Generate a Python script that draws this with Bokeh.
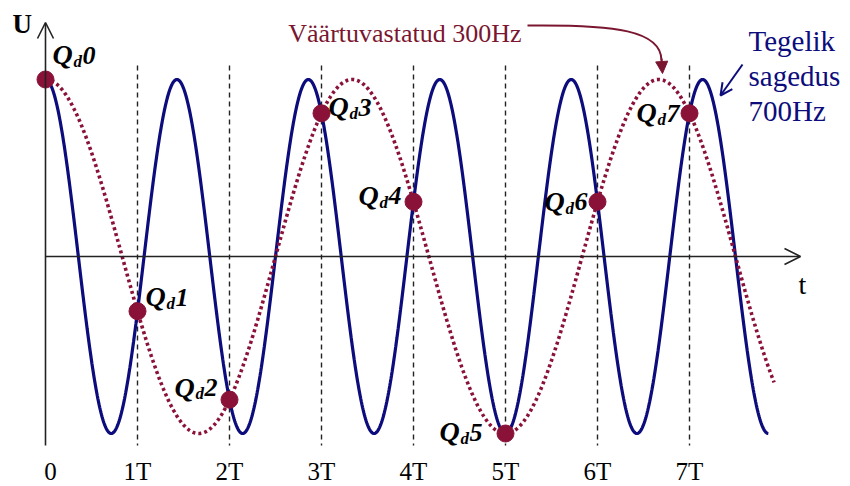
import numpy as np
from bokeh.plotting import figure
from bokeh.models import Range1d, Arrow, OpenHead, NormalHead, ColumnDataSource
from bokeh.core.properties import value
from bokeh.embed import file_html
from bokeh.resources import INLINE

# Signal parameters
f_sample = 1000.0          # sampling rate, Hz (period T = 1 ms)
f_true = 700.0             # actual signal frequency, Hz
f_alias = 300.0            # reconstructed (aliased) frequency, Hz
sample_index = [0, 1, 2, 3, 4, 5, 6, 7]
tick_labels = ["0", "1T", "2T", "3T", "4T", "5T", "6T", "7T"]
true_span_T = 7.857        # blue trace drawn until its 6th trough
alias_span_T = 7.92        # dotted trace length, in periods T

# Layout: pixel placement of origin and scale (frame is 850 x 486)
W, H = 850, 486
X0, SX = 45.0, 92.0        # px of t=0, px per T
Y0, SY = 256.0, 177.0      # px of U=0, px per unit amplitude


def dx(px):
    return (px - X0) / SX


def dy(py):
    return (Y0 - py) / SY


def by(py, size):
    # data y for a text whose visual baseline should sit at pixel row py
    return dy(py - 0.34 * size)


BLUE = "#0c0c7c"
RED = "#8a1238"
RED_TXT = "#7a1630"
SERIF = value("Liberation Serif")

p = figure(width=W, height=H, x_range=Range1d(dx(0), dx(W)), y_range=Range1d(dy(H), dy(0)),
           output_backend="svg", toolbar_location=None, min_border=0,
           x_axis_type=None, y_axis_type=None)
p.grid.visible = False
p.outline_line_color = None
p.background_fill_color = "white"

T = 1.0 / f_sample

# Sampling instants (dashed guides)
ks = np.array(sample_index[1:], dtype=float)
p.segment(x0=ks, y0=dy(65), x1=ks, y1=dy(445), line_color="#222222",
          line_width=1.4, line_dash="5 4")

# Axes with arrow heads
p.add_layout(Arrow(end=OpenHead(size=16, line_width=1.6, line_color="#222222"),
                   x_start=0, y_start=dy(445), x_end=0, y_end=dy(22),
                   line_width=1.6, line_color="#222222"))
p.add_layout(Arrow(end=OpenHead(size=16, line_width=1.6, line_color="#222222"),
                   x_start=0, y_start=0, x_end=dx(800), y_end=0,
                   line_width=1.6, line_color="#222222"))

# Actual 700 Hz signal
tb = np.linspace(0, true_span_T, 1200)
p.line(tb, np.cos(2 * np.pi * f_true * tb * T), line_color=BLUE, line_width=3.2)

# Reconstructed 300 Hz signal
tr = np.linspace(0, alias_span_T, 1200)
p.line(tr, np.cos(2 * np.pi * f_alias * tr * T), line_color=RED, line_width=3.6,
       line_dash="3 3")

# Sample points
n = np.array(sample_index, dtype=float)
u = np.cos(2 * np.pi * f_true * n * T)
p.scatter(n, u, size=17, fill_color=RED, line_color=RED)

# Sample labels Q_d n: left-edge / baseline pixel offsets from each dot
lab_dx = [7, 8, -55, 7, -55, -66, -53, -53]
lab_dy = [-15, -5, -3, 3, 3, 8, 9, 9]
sx_dot = X0 + SX * n
sy_dot = Y0 - SY * u
lx = sx_dot + np.array(lab_dx)
ly = sy_dot + np.array(lab_dy)
QS, DS, NS = 28, 17, 26
q_src = ColumnDataSource(dict(x=dx(lx), y=by(ly, QS), t=["Q"] * len(n)))
d_src = ColumnDataSource(dict(x=dx(lx + 21), y=by(ly + 3, DS), t=["d"] * len(n)))
n_src = ColumnDataSource(dict(x=dx(lx + 30), y=by(ly, NS), t=[str(i) for i in sample_index]))
for src, size in ((q_src, QS), (d_src, DS), (n_src, NS)):
    p.text(x="x", y="y", text="t", source=src, text_font=SERIF,
           text_font_style="bold italic", text_font_size=f"{size}px", text_color="black",
           text_baseline="alphabetic", text_align="left")

# Tick labels under the time axis
tick_x = n.copy()
tick_x[0] = dx(50)
p.text(x=tick_x, y=[by(479, 25)] * len(n), text=tick_labels, text_font=SERIF,
       text_font_size="25px", text_color="black", text_align="center",
       text_baseline="alphabetic")

# Axis names
p.text(x=[dx(12)], y=[by(33, 27)], text=["U"], text_font=SERIF, text_font_style="bold",
       text_font_size="27px", text_color="black", text_baseline="alphabetic")
p.text(x=[dx(798)], y=[by(294, 28)], text=["t"], text_font=SERIF,
       text_font_size="28px", text_color="black", text_baseline="alphabetic")

# Callout for the reconstructed frequency
p.text(x=[dx(521)], y=[by(42, 26)], text=["Väärtuvastatud 300Hz"], text_font=SERIF,
       text_font_size="26px", text_color=RED_TXT, text_align="right",
       text_baseline="alphabetic")
p.bezier(x0=[dx(527)], y0=[dy(25)], x1=[dx(661)], y1=[dy(60)],
         cx0=[dx(615)], cy0=[dy(24)], cx1=[dx(661)], cy1=[dy(30)],
         line_color=RED_TXT, line_width=2)
p.add_layout(Arrow(end=NormalHead(size=12, fill_color=RED_TXT, line_color=RED_TXT),
                   x_start=dx(661), y_start=dy(58), x_end=dx(662), y_end=dy(73),
                   line_width=2, line_color=RED_TXT))

# Callout for the actual frequency
for txt, base in (("Tegelik", 50), ("sagedus", 85), ("700Hz", 120)):
    p.text(x=[dx(748)], y=[by(base, 29)], text=[txt], text_font=SERIF,
           text_font_size="29px", text_color=BLUE, text_align="left",
           text_baseline="alphabetic")
p.add_layout(Arrow(end=OpenHead(size=12, line_width=2, line_color=BLUE),
                   x_start=dx(742), y_start=dy(64), x_end=dx(720), y_end=dy(95),
                   line_width=2, line_color=BLUE))

open("out.html", "w").write(file_html(p, INLINE))
